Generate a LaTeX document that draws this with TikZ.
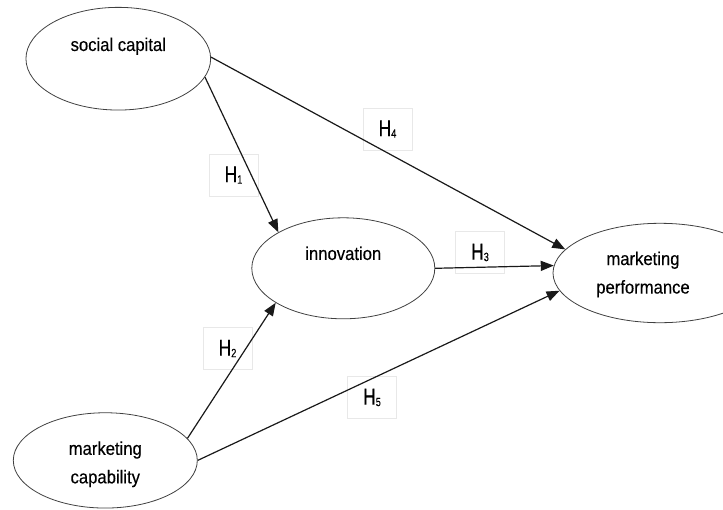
\documentclass[tikz,border=0pt]{standalone}
\usepackage{fontspec}
\setmainfont{Liberation Sans}[FakeStretch=0.9,FakeBold=0.3]
\newfontfamily\hfont{Liberation Sans}[FakeStretch=0.76,FakeBold=0.3]
\usetikzlibrary{shapes.geometric,arrows.meta}
\begin{document}
\begin{tikzpicture}[x=1pt,y=-1pt,
  ell/.style={ellipse, draw=black!75, line width=0.8pt, inner sep=0pt},
  txt/.style={font=\fontsize{18.5}{28.5}\selectfont, text=black, align=center, inner sep=0pt},
  hyp/.style={draw=black!9, line width=0.6pt, minimum width=49pt, minimum height=42pt, inner sep=0pt, text=black, font=\hfont\fontsize{23}{23}\selectfont},
  arr/.style={-{Triangle[length=13pt,width=10pt]}, line width=1.2pt, draw=black!90}]
\useasboundingbox (0,0) rectangle (723,509);
\clip (0,0) rectangle (723,509);
\newcommand{\hsub}[1]{H\raisebox{-1.5pt}{\hfont\fontsize{12}{12}\selectfont #1}}
% hypothesis boxes
\node[hyp] (h1) at (233.5,175) {\hsub{1}};
\node[hyp] (h4) at (387.5,129) {\hsub{4}};
\node[hyp] (h3) at (480,252.5) {\hsub{3}};
\node[hyp] (h2) at (227.5,348.5) {\hsub{2}};
\node[hyp] (h5) at (372,397.5) {\hsub{5}};
% constructs
\node[ell, minimum width=184.7pt, minimum height=102.7pt,
  label={[txt, yshift=12.5pt]center:social capital}] (sc) at (118.3,58.7) {};
\node[ell, minimum width=183pt, minimum height=101pt,
  label={[txt, yshift=15pt]center:innovation}] (inn) at (343.3,268.3) {};
\node[ell, minimum width=214pt, minimum height=99.4pt,
  label={[txt, xshift=-17pt, yshift=-1.5pt]center:{marketing\\performance}}] (mp) at (660,273) {};
\node[ell, minimum width=184pt, minimum height=95.3pt,
  label={[txt, yshift=-3.9pt]center:{marketing\\capability}}] (mc) at (105.3,460.4) {};
% paths
\draw[arr] (sc.-12.7) -- (inn.151.3);
\draw[arr] (sc.1.7) -- (mp.166.6);
\draw[arr] (inn.east) -- (mp.176.8);
\draw[arr] (mc.15.9) -- (inn.207.6);
\draw[arr] (mc.east) -- (mp.190.1);
\end{tikzpicture}
\end{document}
